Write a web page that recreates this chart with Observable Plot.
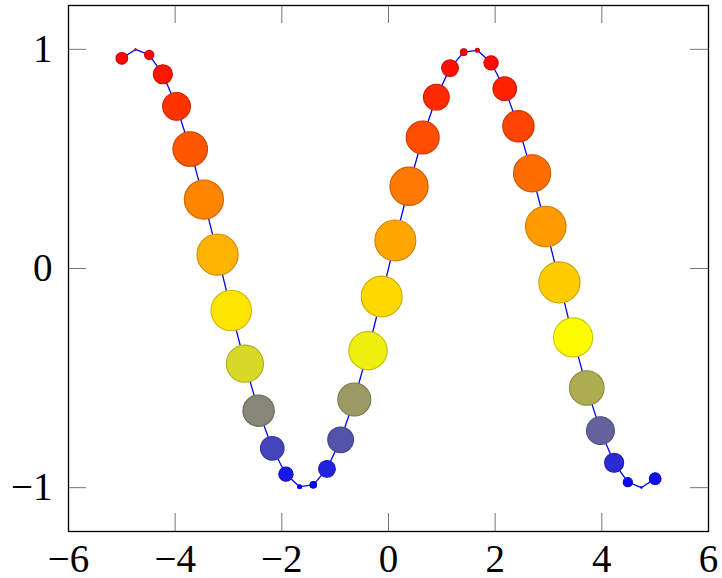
<!DOCTYPE html>
<html>
<head>
<meta charset="utf-8">
<script src="https://cdn.jsdelivr.net/npm/d3@7"></script>
<script src="https://cdn.jsdelivr.net/npm/@observablehq/plot@0.6"></script>
<style>
  html, body { margin: 0; padding: 0; background: #fff; }
  svg { display: block; overflow: visible; }
</style>
</head>
<body>
<div id="chart"></div>
<script>
// sample positions
const xs = [-5.0000, -4.7436, -4.4872, -4.2308, -3.9744, -3.7179, -3.4615, -3.2051, -2.9487, -2.6923,
            -2.4359, -2.1795, -1.9231, -1.6667, -1.4103, -1.1538, -0.8974, -0.6410, -0.3846, -0.1282,
             0.1282,  0.3846,  0.6410,  0.8974,  1.1538,  1.4103,  1.6667,  1.9231,  2.1795,  2.4359,
             2.6923,  2.9487,  3.2051,  3.4615,  3.7179,  3.9744,  4.2308,  4.4872,  4.7436,  5.0000];
// series values (also the colour meta)
const ys = [ 0.9589,  0.9995,  0.9749,  0.8863,  0.7399,  0.5450,  0.3145,  0.0635, -0.1917, -0.4343,
            -0.6486, -0.8204, -0.9386, -0.9954, -0.9871, -0.9143, -0.7817, -0.5980, -0.3752, -0.1279,
             0.1279,  0.3752,  0.5980,  0.7817,  0.9143,  0.9871,  0.9954,  0.9386,  0.8204,  0.6486,
             0.4343,  0.1917, -0.0635, -0.3145, -0.5450, -0.7399, -0.8863, -0.9749, -0.9995, -0.9589];
// per-point marker size (relative)
const sizes = [0.284, 0.031, 0.223, 0.463, 0.673, 0.838, 0.949, 0.998, 0.981, 0.901,
               0.761, 0.572, 0.345, 0.096, 0.160, 0.405, 0.624, 0.801, 0.927, 0.992,
               0.992, 0.927, 0.801, 0.624, 0.405, 0.160, 0.096, 0.345, 0.572, 0.761,
               0.901, 0.981, 0.998, 0.949, 0.838, 0.673, 0.463, 0.223, 0.031, 0.284];
const xTicks = [-6, -4, -2, 0, 2, 4, 6];
const yTicks = [-1, 0, 1];

const data = xs.map((x, i) => ({x, y: ys[i], s: sizes[i]}));

const W = 722, H = 578;
const mL = 68, mR = 14, mT = 5, mB = 47;
const innerW = W - mL - mR, innerH = H - mT - mB;
const tickLen = 18;
const tickStyle = {stroke: "#777", strokeWidth: 1};
const fmt = d3.format("d");

const chart = Plot.plot({
  width: W,
  height: H,
  marginLeft: mL,
  marginRight: mR,
  marginTop: mT,
  marginBottom: mB,
  style: {fontFamily: "'Liberation Serif', serif", color: "black", background: "white"},
  x: {domain: [-6, 6], label: null},
  y: {domain: [-1.2, 1.2], label: null},
  r: {type: "linear", domain: [0, 1], range: [0, 20.6]},
  color: {type: "linear", domain: [-1, -1/3, 1/3, 1], range: ["#0000ff", "#ffff00", "#ff8000", "#ff0000"], interpolate: "rgb"},
  marks: [
    // inward ticks on all four sides
    Plot.tickX(xTicks, {x: d => d, insetTop: innerH - tickLen, ...tickStyle}),
    Plot.tickX(xTicks, {x: d => d, insetBottom: innerH - tickLen, ...tickStyle}),
    Plot.tickY(yTicks, {y: d => d, insetRight: innerW - tickLen, ...tickStyle}),
    Plot.tickY(yTicks, {y: d => d, insetLeft: innerW - tickLen, ...tickStyle}),
    Plot.axisX(xTicks, {tickSize: 0, tickPadding: 13, fontSize: 39, anchor: "bottom", label: null, tickFormat: fmt}),
    Plot.axisY(yTicks, {tickSize: 0, tickPadding: 16, fontSize: 39, anchor: "left", label: null, tickFormat: fmt}),
    Plot.line(data, {x: "x", y: "y", stroke: "#0000ff", strokeWidth: 1.3}),
    Plot.dot(data, {x: "x", y: "y", r: "s", fill: "y", stroke: "y", strokeWidth: 1.1}),
    Plot.dot(data, {x: "x", y: "y", r: "s", fill: "none", stroke: "black", strokeOpacity: 0.2, strokeWidth: 1.1}),
    Plot.frame({stroke: "black", strokeWidth: 1.3})
  ]
});
document.getElementById("chart").appendChild(chart);
</script>
</body>
</html>
